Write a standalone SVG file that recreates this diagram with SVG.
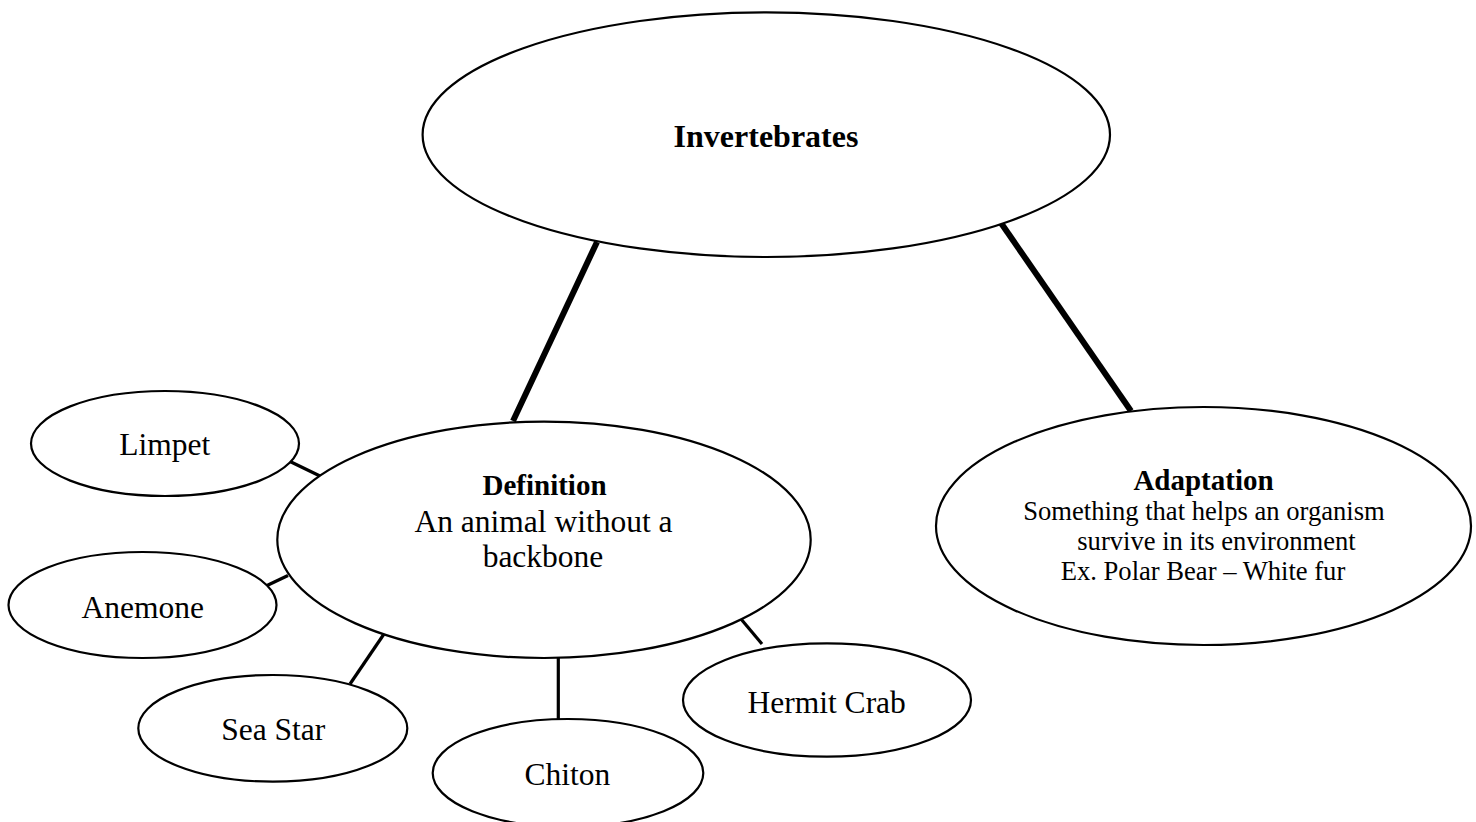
<svg xmlns="http://www.w3.org/2000/svg" width="1476" height="822" viewBox="0 0 1476 822">
  <style>
    .node { fill: #ffffff; stroke: #000000; stroke-width: 2.2; }
    .thick { stroke: #000000; stroke-width: 6; fill: none; }
    .thin { stroke: #000000; stroke-width: 3.2; fill: none; }
    text { font-family: "Liberation Serif", "Times New Roman", serif; fill: #000000; text-anchor: middle; }
    .label { font-size: 31.5px; }
    .title { font-size: 32px; font-weight: bold; }
    .head { font-size: 29px; font-weight: bold; }
    .body { font-size: 31.5px; }
    .small { font-size: 26.6px; }
  </style>
  <rect width="1476" height="822" fill="#ffffff"/>
  <g id="connectors">
    <line class="thick" x1="597" y1="242" x2="513" y2="421"/>
    <line class="thick" x1="1001" y1="223" x2="1131" y2="411"/>
    <line class="thin" x1="288" y1="460.5" x2="321" y2="476.5"/>
    <line class="thin" x1="267" y1="585.5" x2="288" y2="575.5"/>
    <line class="thin" x1="384" y1="634" x2="350" y2="684"/>
    <line class="thin" x1="558.3" y1="657" x2="558.3" y2="719"/>
    <line class="thin" x1="741" y1="619" x2="762" y2="644"/>
  </g>
  <g id="invertebrates">
    <ellipse class="node" cx="766.3" cy="134.7" rx="343.7" ry="122.3"/>
    <text class="title" x="766" y="146.7">Invertebrates</text>
  </g>
  <g id="definition">
    <ellipse class="node" cx="544" cy="539.8" rx="266.7" ry="118.2"/>
    <text class="head" x="544.5" y="495">Definition</text>
    <text class="body" x="543.5" y="531.7">An animal without a</text>
    <text class="body" x="543" y="566.7">backbone</text>
  </g>
  <g id="adaptation">
    <ellipse class="node" cx="1203.5" cy="526" rx="267.5" ry="119"/>
    <text class="head" x="1203.5" y="490">Adaptation</text>
    <text class="small" x="1204" y="520">Something that helps an organism</text>
    <text class="small" x="1216.5" y="550">survive in its environment</text>
    <text class="small" x="1203" y="580">Ex. Polar Bear – White fur</text>
  </g>
  <g id="limpet">
    <ellipse class="node" cx="165" cy="443.5" rx="134" ry="52.5"/>
    <text class="label" x="164.7" y="455">Limpet</text>
  </g>
  <g id="anemone">
    <ellipse class="node" cx="142.5" cy="605" rx="134" ry="53"/>
    <text class="label" x="142.8" y="618">Anemone</text>
  </g>
  <g id="sea-star">
    <ellipse class="node" cx="272.8" cy="728.3" rx="134.5" ry="53.3"/>
    <text class="label" x="273.3" y="740">Sea Star</text>
  </g>
  <g id="chiton">
    <ellipse class="node" cx="568" cy="773" rx="135.3" ry="54"/>
    <text class="label" x="567.5" y="785">Chiton</text>
  </g>
  <g id="hermit-crab">
    <ellipse class="node" cx="827" cy="700" rx="144" ry="56.7"/>
    <text class="label" x="826.7" y="713">Hermit Crab</text>
  </g>
</svg>
